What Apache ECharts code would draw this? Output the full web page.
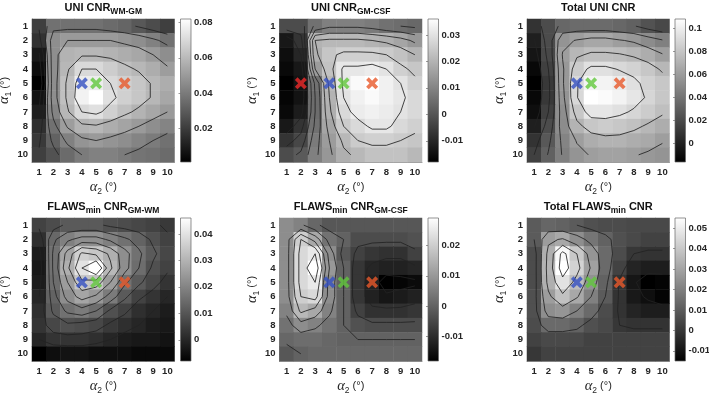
<!DOCTYPE html>
<html><head><meta charset="utf-8">
<script src="https://cdn.jsdelivr.net/npm/echarts@6/dist/echarts.min.js"></script>
<style>html,body{margin:0;padding:0;background:#fff}#c{width:709px;height:394px}</style>
</head><body><div id="c"></div>
<script>
// ---------------- DATA ----------------
const alpha2Labels = ['1','2','3','4','5','6','7','8','9','10'];
const alpha1Labels = ['1','2','3','4','5','6','7','8','9','10'];

const panelTitles = [
  '{m|UNI CNR}{s|WM-GM}',
  '{m|UNI CNR}{s|GM-CSF}',
  '{m|Total UNI CNR}',
  '{m|FLAWS}{s|min}{m| CNR}{s|GM-WM}',
  '{m|FLAWS}{s|min}{m| CNR}{s|GM-CSF}',
  '{m|Total FLAWS}{s|min}{m| CNR}'
];

// rows: alpha1 = 1..10, columns: alpha2 = 1..10
const uniWmGm = [
  [0.021,0.037,0.037,0.037,0.037,0.035,0.033,0.029,0.025,0.021],
  [0.017,0.046,0.050,0.050,0.050,0.050,0.048,0.046,0.042,0.037],
  [0.009,0.046,0.058,0.059,0.059,0.058,0.056,0.054,0.050,0.046],
  [0.005,0.046,0.059,0.070,0.070,0.066,0.062,0.059,0.056,0.051],
  [0.001,0.046,0.062,0.076,0.076,0.070,0.067,0.064,0.059,0.056],
  [0.007,0.046,0.062,0.078,0.082,0.072,0.067,0.064,0.059,0.054],
  [0.011,0.043,0.059,0.070,0.072,0.067,0.062,0.058,0.054,0.050],
  [0.016,0.037,0.051,0.058,0.059,0.056,0.053,0.050,0.046,0.043],
  [0.019,0.032,0.042,0.048,0.050,0.048,0.046,0.043,0.040,0.037],
  [0.021,0.027,0.035,0.040,0.042,0.042,0.040,0.038,0.037,0.035]
];
const uniGmCsf = [
  [-0.002,-0.002,0.006,0.009,0.009,0.009,0.008,0.006,0.005,0.004],
  [-0.013,-0.007,0.020,0.021,0.021,0.021,0.020,0.019,0.017,0.014],
  [-0.015,-0.010,0.019,0.024,0.026,0.026,0.026,0.025,0.023,0.020],
  [-0.016,-0.013,0.015,0.023,0.031,0.031,0.032,0.030,0.026,0.024],
  [-0.018,-0.014,0.006,0.021,0.031,0.035,0.036,0.033,0.030,0.026],
  [-0.017,-0.014,0.005,0.020,0.030,0.033,0.035,0.033,0.031,0.028],
  [-0.016,-0.012,0.005,0.019,0.028,0.032,0.033,0.032,0.030,0.028],
  [-0.013,-0.007,0.006,0.017,0.025,0.028,0.031,0.031,0.028,0.026],
  [-0.007,-0.003,0.008,0.015,0.021,0.025,0.026,0.026,0.025,0.024],
  [-0.002,0.001,0.009,0.014,0.019,0.021,0.023,0.023,0.023,0.021]
];
const totalUni = [
  [0.009,0.021,0.034,0.036,0.036,0.036,0.034,0.031,0.024,0.019],
  [-0.001,0.021,0.056,0.061,0.065,0.065,0.061,0.058,0.052,0.046],
  [-0.006,0.019,0.061,0.073,0.077,0.077,0.076,0.073,0.068,0.061],
  [-0.012,0.015,0.058,0.083,0.093,0.093,0.089,0.086,0.081,0.073],
  [-0.016,0.011,0.058,0.089,0.102,0.102,0.099,0.093,0.086,0.081],
  [-0.012,0.011,0.056,0.089,0.108,0.106,0.102,0.096,0.088,0.081],
  [-0.009,0.015,0.053,0.081,0.096,0.096,0.093,0.088,0.083,0.077],
  [-0.001,0.021,0.052,0.071,0.081,0.083,0.081,0.078,0.073,0.068],
  [0.009,0.027,0.048,0.061,0.068,0.071,0.071,0.068,0.066,0.061],
  [0.015,0.031,0.046,0.056,0.061,0.063,0.063,0.061,0.058,0.056]
];
const flawsGmWm = [
  [0.006,0.008,0.011,0.011,0.011,0.009,0.008,0.007,0.006,0.004],
  [0.002,0.014,0.019,0.022,0.022,0.019,0.016,0.013,0.009,0.006],
  [-0.002,0.016,0.027,0.036,0.034,0.029,0.022,0.016,0.011,0.007],
  [-0.003,0.016,0.029,0.040,0.046,0.031,0.022,0.015,0.009,0.006],
  [-0.002,0.015,0.025,0.034,0.033,0.025,0.016,0.011,0.007,0.003],
  [0.000,0.013,0.022,0.027,0.024,0.018,0.011,0.006,0.003,0.000],
  [0.002,0.011,0.016,0.018,0.015,0.009,0.006,0.002,0.000,-0.002],
  [0.003,0.007,0.009,0.008,0.007,0.004,0.002,0.000,-0.002,-0.003],
  [0.000,0.003,0.003,0.003,0.002,0.000,-0.002,-0.003,-0.003,-0.004],
  [-0.008,-0.005,-0.004,-0.004,-0.005,-0.005,-0.005,-0.006,-0.006,-0.006]
];
const flawsGmCsf = [
  [0.008,0.006,0.001,-0.002,-0.002,-0.002,-0.002,-0.002,-0.002,-0.002],
  [0.008,0.020,0.013,0.003,0.000,-0.004,-0.004,-0.004,-0.004,-0.003],
  [0.008,0.022,0.025,0.008,-0.002,-0.006,-0.008,-0.009,-0.009,-0.006],
  [0.008,0.022,0.029,0.010,0.000,-0.008,-0.011,-0.012,-0.012,-0.011],
  [0.008,0.022,0.025,0.008,0.000,-0.008,-0.012,-0.018,-0.017,-0.016],
  [0.008,0.020,0.022,0.008,0.000,-0.008,-0.012,-0.014,-0.013,-0.012],
  [0.006,0.016,0.013,0.006,0.000,-0.006,-0.009,-0.009,-0.009,-0.008],
  [0.003,0.008,0.006,0.003,0.000,-0.003,-0.004,-0.004,-0.004,-0.004],
  [0.001,0.002,0.002,0.001,0.000,0.000,0.000,0.000,0.000,0.000],
  [-0.002,0.000,0.001,0.001,0.001,0.001,0.001,0.001,0.001,0.001]
];
const flawsTotal = [
  [0.010,0.013,0.012,0.010,0.007,0.006,0.006,0.005,0.005,0.005],
  [0.010,0.028,0.031,0.024,0.017,0.012,0.007,0.005,0.003,0.003],
  [0.006,0.033,0.053,0.040,0.026,0.014,0.006,0.000,-0.001,-0.001],
  [0.006,0.034,0.055,0.043,0.029,0.014,0.003,-0.005,-0.007,-0.007],
  [0.006,0.033,0.047,0.037,0.025,0.012,-0.001,-0.009,-0.015,-0.014],
  [0.007,0.028,0.038,0.031,0.020,0.010,-0.001,-0.008,-0.011,-0.014],
  [0.007,0.024,0.026,0.020,0.014,0.006,-0.001,-0.005,-0.007,-0.007],
  [0.006,0.014,0.014,0.012,0.007,0.005,0.000,-0.001,-0.001,-0.001],
  [0.003,0.005,0.005,0.005,0.003,0.003,0.003,0.003,0.003,0.003],
  [0.000,0.003,0.003,0.003,0.003,0.003,0.003,0.003,0.003,0.003]
];

const colorbarTicks = [
  [0.02,0.04,0.06,0.08],
  [-0.01,0,0.01,0.02,0.03],
  [0,0.02,0.04,0.06,0.08,0.1],
  [0,0.01,0.02,0.03,0.04],
  [-0.01,0,0.01,0.02],
  [-0.01,0,0.01,0.02,0.03,0.04,0.05]
];
const contourLevels = [
  [0.01,0.02,0.03,0.04,0.05,0.06,0.07],
  [-0.01,-0.005,0,0.005,0.01,0.015,0.02,0.025,0.03],
  [0,0.015,0.03,0.045,0.06,0.075,0.09],
  [0,0.005,0.01,0.015,0.02,0.025,0.03,0.035,0.04],
  [-0.015,-0.01,-0.005,0,0.005,0.01,0.015,0.02,0.025],
  [-0.01,0,0.01,0.02,0.03,0.04,0.05]
];
// markers (alpha2, alpha1)
const markerAlpha2 = [4,5,7];
const markerAlpha1 = [5,5,5];
const redMarkerAlpha2 = 2;
const redMarkerAlpha1 = 5;

// ---------------- LAYOUT / STYLE ----------------
const matrices = [uniWmGm, uniGmCsf, totalUni, flawsGmWm, flawsGmCsf, flawsTotal];
const FONT = 'Liberation Sans, Arial, Helvetica, sans-serif';
const plotLeft = [32, 279.5, 527];
const plotTop = [19, 218];
const plotW = 142.5, plotH = 143;
const cbLeft = [180.5, 428, 675];
const cbW = 10.5;
const markerColors = ['#3550c2','#62c83c','#e8592a'];
const redColor = '#ef2b2b';
const X_PATH = 'path://M0,2.2 L2.2,0 L5,2.8 L7.8,0 L10,2.2 L7.2,5 L10,7.8 L7.8,10 L5,7.2 L2.2,10 L0,7.8 L2.8,5 Z';

// marching squares contour, coordinates in alpha units
function contourPolylines(z, level) {
  const nR = z.length, nC = z[0].length;
  const segs = [];
  const pt = (key) => {
    const parts = key.slice(1).split('_').map(Number);
    const r = parts[0], c = parts[1];
    if (key[0] === 'h') {
      const a = z[r][c], b = z[r][c+1], t = (level - a) / (b - a);
      return [c + 1 + t, r + 1];
    } else {
      const a = z[r][c], b = z[r+1][c], t = (level - a) / (b - a);
      return [c + 1, r + 1 + t];
    }
  };
  for (let r = 0; r < nR - 1; r++) {
    for (let c = 0; c < nC - 1; c++) {
      const tl = z[r][c], tr = z[r][c+1], br = z[r+1][c+1], bl = z[r+1][c];
      const H = v => v >= level;
      const top = 'h' + r + '_' + c, bottom = 'h' + (r+1) + '_' + c;
      const left = 'v' + r + '_' + c, right = 'v' + r + '_' + (c+1);
      const cross = [];
      if (H(tl) !== H(tr)) cross.push(top);
      if (H(tr) !== H(br)) cross.push(right);
      if (H(bl) !== H(br)) cross.push(bottom);
      if (H(tl) !== H(bl)) cross.push(left);
      if (cross.length === 2) segs.push([cross[0], cross[1]]);
      else if (cross.length === 4) {
        const center = (tl + tr + br + bl) / 4;
        if (H(tl) === H(center)) { segs.push([top, right]); segs.push([left, bottom]); }
        else { segs.push([top, left]); segs.push([right, bottom]); }
      }
    }
  }
  const adj = {};
  segs.forEach((s, i) => { s.forEach(k => { (adj[k] = adj[k] || []).push(i); }); });
  const used = new Array(segs.length).fill(false);
  const lines = [];
  const walk = (startIdx, startKey) => {
    const pts = [pt(startKey)];
    let cur = startIdx, key = startKey;
    while (cur !== undefined && !used[cur]) {
      used[cur] = true;
      const s = segs[cur];
      const other = s[0] === key ? s[1] : s[0];
      pts.push(pt(other));
      key = other;
      cur = (adj[key] || []).find(j => !used[j]);
    }
    lines.push(pts);
  };
  segs.forEach((s, i) => {
    if (used[i]) return;
    for (const k of s) { if (adj[k].length === 1) { walk(i, k); return; } }
  });
  segs.forEach((s, i) => { if (!used[i]) walk(i, s[0]); });
  return lines;
}

const option = {
  backgroundColor: '#ffffff',
  animation: false,
  title: [], grid: [], xAxis: [], yAxis: [], series: [], visualMap: []
};

const labelStyle = { fontFamily: FONT, fontWeight: 'bold', fontSize: 9.5, color: '#262626' };
const nameRich = {
  a: { fontFamily: 'Liberation Serif, DejaVu Serif, serif', fontStyle: 'italic', fontSize: 14.5, color: '#262626', lineHeight: 15 },
  s: { fontFamily: FONT, fontSize: 8.5, color: '#262626', lineHeight: 8, padding: [9, 0, 0, 0] },
  t: { fontFamily: FONT, fontSize: 11, color: '#262626', lineHeight: 15 }
};

matrices.forEach((z, i) => {
  const col = i % 3, row = Math.floor(i / 3);
  const gl = plotLeft[col], gt = plotTop[row];
  const flat = z.flat();
  const vmin = Math.min(...flat), vmax = Math.max(...flat);

  option.title.push({
    text: panelTitles[i],
    left: gl + plotW / 2, top: gt - 18, textAlign: 'center', padding: 0,
    textStyle: {
      rich: {
        m: { fontFamily: FONT, fontWeight: 'bold', fontSize: 11, color: '#111', lineHeight: 13 },
        s: { fontFamily: FONT, fontWeight: 'bold', fontSize: 8.5, color: '#111', lineHeight: 8, padding: [8, 0, 0, 0] }
      }
    }
  });

  option.grid.push({ left: gl, top: gt, width: plotW, height: plotH, containLabel: false, outerBoundsMode: 'none' });
  const gi = option.grid.length - 1;
  option.grid.push({ left: cbLeft[col], top: gt, width: cbW, height: plotH, containLabel: false, outerBoundsMode: 'none' });
  const cbi = option.grid.length - 1;

  const xa = option.xAxis.length, ya = option.yAxis.length;
  option.xAxis.push({
    type: 'category', gridIndex: gi, data: alpha2Labels, position: 'bottom',
    axisLine: { show: true, lineStyle: { color: '#555', width: 0.6 } },
    axisTick: { show: true, inside: true, length: 2, alignWithLabel: true, lineStyle: { color: '#555', width: 0.6 } },
    axisLabel: Object.assign({ margin: 5, interval: 0 }, labelStyle),
    splitLine: { show: false },
    name: '{a|α}{s|2}{t| (°)}', nameLocation: 'middle', nameGap: 15,
    nameTextStyle: { rich: nameRich }
  });
  option.yAxis.push({
    type: 'category', gridIndex: gi, data: alpha1Labels, inverse: true, position: 'left',
    axisLine: { show: true, lineStyle: { color: '#555', width: 0.6 } },
    axisTick: { show: true, inside: true, length: 2, alignWithLabel: true, lineStyle: { color: '#555', width: 0.6 } },
    axisLabel: Object.assign({ margin: 4, interval: 0 }, labelStyle),
    splitLine: { show: false },
    name: '{a|α}{s|1}{t| (°)}', nameLocation: 'middle', nameGap: 13,
    nameTextStyle: { rich: nameRich }
  });
  option.xAxis.push({ type: 'value', gridIndex: gi, min: 0.5, max: 10.5, show: false });
  option.yAxis.push({ type: 'value', gridIndex: gi, min: 0.5, max: 10.5, inverse: true, show: false });
  option.xAxis.push({ type: 'value', gridIndex: cbi, min: 0, max: 1, show: false });
  option.yAxis.push({
    type: 'value', gridIndex: cbi, min: vmin, max: vmax, position: 'right',
    axisLine: { show: false },
    axisTick: { show: true, inside: true, length: 2, customValues: colorbarTicks[i], lineStyle: { color: '#555', width: 0.6 } },
    axisLabel: Object.assign({ margin: 3, customValues: colorbarTicks[i] }, labelStyle),
    splitLine: { show: false }
  });

  const hmData = [];
  z.forEach((rowVals, r) => rowVals.forEach((v, c) => hmData.push([c, r, v])));
  const hmIndex = option.series.length;
  option.series.push({
    type: 'heatmap', xAxisIndex: xa, yAxisIndex: ya, data: hmData,
    itemStyle: { borderWidth: 0 }, emphasis: { disabled: true }, silent: true
  });
  option.visualMap.push({
    type: 'continuous', show: false, seriesIndex: hmIndex, min: vmin, max: vmax, dimension: 2,
    inRange: { color: ['#000000', '#ffffff'] }
  });

  const polys = [];
  contourLevels[i].forEach(L => contourPolylines(z, L).forEach(p => polys.push(p)));
  option.series.push({
    type: 'custom', xAxisIndex: xa + 1, yAxisIndex: ya + 1, silent: true, clip: true,
    data: polys.map(p => p[0]),
    renderItem: (params, api) => ({
      type: 'polyline',
      shape: { points: polys[params.dataIndex].map(p => api.coord(p)) },
      style: { stroke: '#222', lineWidth: 0.85, fill: null }
    })
  });

  const mData = markerAlpha2.map((a2, k) => ({ value: [a2, markerAlpha1[k]], itemStyle: { color: markerColors[k] } }));
  if (i === 1) mData.unshift({ value: [redMarkerAlpha2, redMarkerAlpha1], itemStyle: { color: redColor } });
  option.series.push({
    type: 'scatter', xAxisIndex: xa + 1, yAxisIndex: ya + 1, silent: true,
    symbol: X_PATH, symbolSize: 12, data: mData, z: 5
  });

  option.series.push({
    type: 'custom', xAxisIndex: xa + 2, yAxisIndex: ya + 2, silent: true,
    data: [[0, vmin, vmax]], encode: { x: 0, y: [1, 2] },
    renderItem: (params, api) => {
      const p1 = api.coord([0, api.value(2)]);
      const p2 = api.coord([1, api.value(1)]);
      return {
        type: 'rect',
        shape: { x: p1[0], y: p1[1], width: p2[0] - p1[0], height: p2[1] - p1[1] },
        style: {
          fill: { type: 'linear', x: 0, y: 0, x2: 0, y2: 1, colorStops: [{ offset: 0, color: '#ffffff' }, { offset: 1, color: '#000000' }] },
          stroke: '#666', lineWidth: 0.7
        }
      };
    }
  });
});

const chart = echarts.init(document.getElementById('c'), null, { renderer: 'canvas' });
chart.setOption(option);
</script></body></html>
